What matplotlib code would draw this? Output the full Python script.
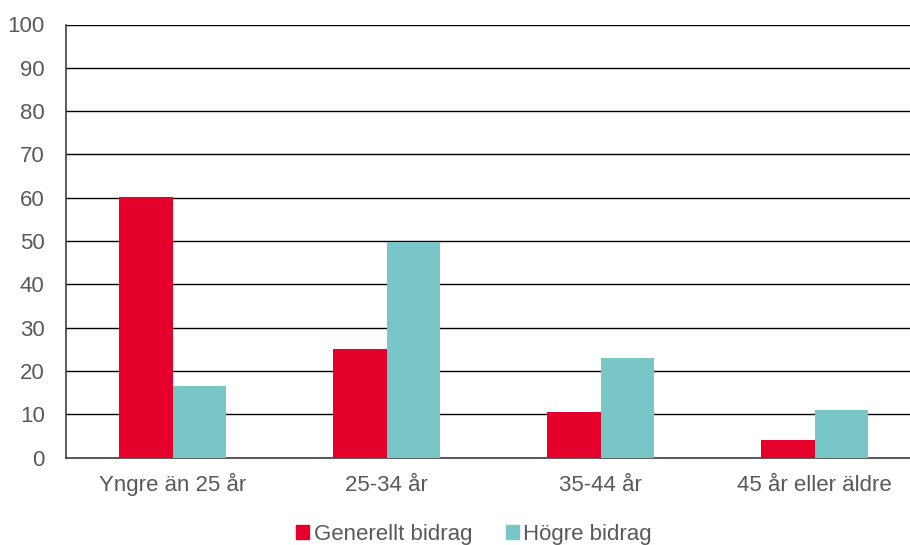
import matplotlib
matplotlib.use("Agg")
import matplotlib.pyplot as plt
import numpy as np
from matplotlib.patches import Patch

categories = ["Yngre än 25 år", "25-34 år", "35-44 år", "45 år eller äldre"]
generellt = [60.2, 25.1, 10.4, 4.0]
hogre = [16.4, 49.8, 23.0, 10.9]
series_names = ["Generellt bidrag", "Högre bidrag"]
colors = ["#E4002B", "#78C6C8"]

plt.rcParams['font.family'] = ['Liberation Sans', 'DejaVu Sans']

fig = plt.figure(figsize=(9.1, 5.45), dpi=100)
W, H = 910, 545
left, right, top, bottom = 65.5, 921.5, 24.5, 457.5
ax = fig.add_axes([left / W, 1 - bottom / H, (right - left) / W, (bottom - top) / H])

x = np.arange(len(categories))
w = 0.25
ax.bar(x - w / 2, generellt, w, color=colors[0], zorder=3)
ax.bar(x + w / 2, hogre, w, color=colors[1], zorder=3)

ax.set_xlim(-0.5, len(categories) - 0.5)
ax.set_ylim(0, 100)
ax.set_yticks(range(0, 101, 10))
ax.yaxis.grid(True, color="black", linewidth=1.0, zorder=0)
ax.set_axisbelow(True)
for s in ["top", "right"]:
    ax.spines[s].set_visible(False)
ax.spines["left"].set_color("#404040")
ax.spines["bottom"].set_color("#404040")
ax.spines["left"].set_linewidth(1.2)
ax.spines["bottom"].set_linewidth(1.2)
ax.set_xticks(x)
ax.set_xticklabels(categories)
ax.tick_params(axis="both", length=0, labelsize=16, labelcolor="#595959")
ax.tick_params(axis="y", pad=15)
ax.tick_params(axis="x", pad=24)
for lbl in ax.get_xticklabels():
    lbl.set_verticalalignment("baseline")

handles = [Patch(color=c, label=n) for c, n in zip(colors, series_names)]
fig.legend(handles=handles, loc="center", bbox_to_anchor=(474 / W, 1 - 534.5 / H), ncol=2,
           frameon=False, fontsize=16, labelcolor="#595959", handlelength=0.6,
           handleheight=0.6, handletextpad=0.2, columnspacing=1.5)

fig.savefig("out.png", dpi=100)
